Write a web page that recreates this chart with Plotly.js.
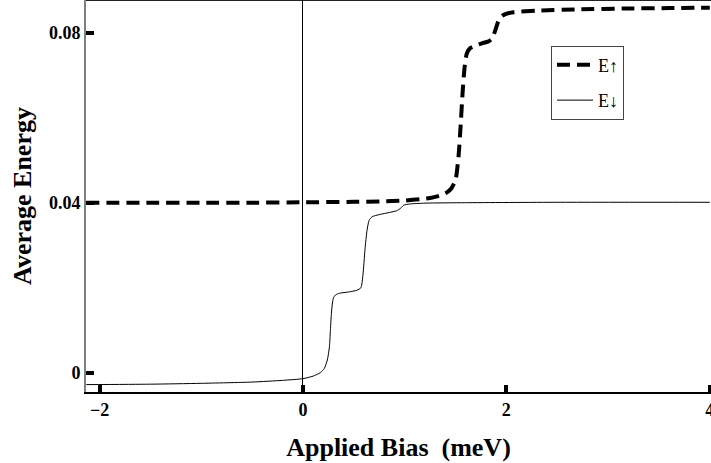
<!DOCTYPE html>
<html>
<head>
<meta charset="utf-8">
<script src="https://cdn.plot.ly/plotly-3.0.1.min.js"></script>
<style>html,body{margin:0;padding:0;background:#fff;}#chart{width:711px;height:463px;}</style>
</head>
<body>
<div id="chart"></div>
<script>
// Data
const biasUp = [-2.13, -1.5, -1.0, -0.5, 0.0, 0.5, 0.76, 1.0, 1.15, 1.25, 1.35, 1.42, 1.46, 1.50, 1.53, 1.55, 1.57, 1.59, 1.61, 1.64, 1.70, 1.76, 1.82, 1.86, 1.89, 1.92, 1.95, 1.99, 2.07, 2.3, 2.7, 3.2, 3.6, 4.0];
const energyUp = [0.0400, 0.0400, 0.0400, 0.0400, 0.0401, 0.0402, 0.0403, 0.0405, 0.0408, 0.0411, 0.0417, 0.0425, 0.0434, 0.0453, 0.0510, 0.0580, 0.0660, 0.0720, 0.0750, 0.0763, 0.0770, 0.0775, 0.0779, 0.0786, 0.0805, 0.0826, 0.0838, 0.0844, 0.0848, 0.0852, 0.0855, 0.0857, 0.0858, 0.0859];

const biasDown = [-2.13, -1.5, -1.0, -0.5, -0.2, 0.0, 0.1, 0.17, 0.21, 0.24, 0.26, 0.27, 0.28, 0.29, 0.30, 0.32, 0.36, 0.45, 0.53, 0.57, 0.59, 0.61, 0.63, 0.65, 0.68, 0.75, 0.85, 0.92, 0.96, 0.99, 1.05, 1.2, 1.6, 2.5, 4.0];
const energyDown = [-0.0028, -0.0027, -0.0025, -0.0022, -0.0018, -0.0014, -0.0008, 0.0000, 0.0010, 0.0030, 0.0060, 0.0100, 0.0140, 0.0164, 0.0176, 0.0183, 0.0187, 0.0190, 0.0194, 0.0200, 0.0230, 0.0290, 0.0335, 0.0358, 0.0367, 0.0372, 0.0377, 0.0381, 0.0387, 0.0394, 0.0397, 0.0399, 0.0400, 0.0401, 0.0401];

const seriesNames = ['E\u2191', 'E\u2193'];
const xTicks = [-2, 0, 2, 4];
const xTickLabels = ['\u22122', '0', '2', '4'];
const yTicks = [0, 0.04, 0.08];
const yTickLabels = ['0', '0.04', '0.08'];

const serif = 'Liberation Serif, DejaVu Serif, serif';

const traces = [
  {x: biasUp, y: energyUp, name: seriesNames[0], mode: 'lines', legendgroup: 'a',
   line: {color: '#000', width: 4, dash: '13px,7px', shape: 'spline', smoothing: 0.6}},
  {x: biasDown, y: energyDown, name: seriesNames[1], mode: 'lines', legendgroup: 'b',
   line: {color: '#000', width: 1, shape: 'spline', smoothing: 0.6}}
];

const layout = {
  width: 711, height: 463,
  margin: {l: 86, r: 0, t: 0, b: 71},
  paper_bgcolor: '#fff', plot_bgcolor: '#fff',
  showlegend: true,
  legend: {x: 0.744, y: 0.7895, xanchor: 'left', yanchor: 'middle',
    bordercolor: '#444', borderwidth: 1, bgcolor: '#fff',
    font: {family: serif, size: 18, color: '#000'},
    traceorder: 'grouped', tracegroupgap: 9, itemwidth: 36},
  xaxis: {
    range: [-2.133, 4.012], showgrid: false,
    zeroline: true, zerolinecolor: '#000', zerolinewidth: 1,
    showline: true, linecolor: '#000', linewidth: 2,
    ticks: 'inside', ticklen: 7, tickwidth: 4, tickcolor: '#000',
    tickvals: xTicks, ticktext: xTickLabels, ticklabeloverflow: 'allow',
    tickfont: {family: serif, size: 18, color: '#000', weight: 'bold'},
    title: {text: 'Applied Bias\u00a0 (meV)', font: {family: serif, size: 26, color: '#000', weight: 'bold'}, standoff: 19}
  },
  yaxis: {
    range: [-0.00454, 0.0877], showgrid: false, zeroline: false,
    showline: true, linecolor: '#808080', linewidth: 2,
    ticks: 'inside', ticklen: 8, tickwidth: 4, tickcolor: '#000',
    tickvals: yTicks, ticktext: yTickLabels,
    tickfont: {family: serif, size: 18, color: '#000', weight: 'bold'},
    title: {text: 'Average Energy', font: {family: serif, size: 26, color: '#000', weight: 'bold'}, standoff: 10}
  },
  shapes: [
    {type: 'line', xref: 'paper', yref: 'paper', x0: 0, x1: 1, y0: 1, y1: 1,
     line: {color: '#222', width: 2}}
  ]
};

Plotly.newPlot('chart', traces, layout, {displayModeBar: false, staticPlot: true});
</script>
</body>
</html>
